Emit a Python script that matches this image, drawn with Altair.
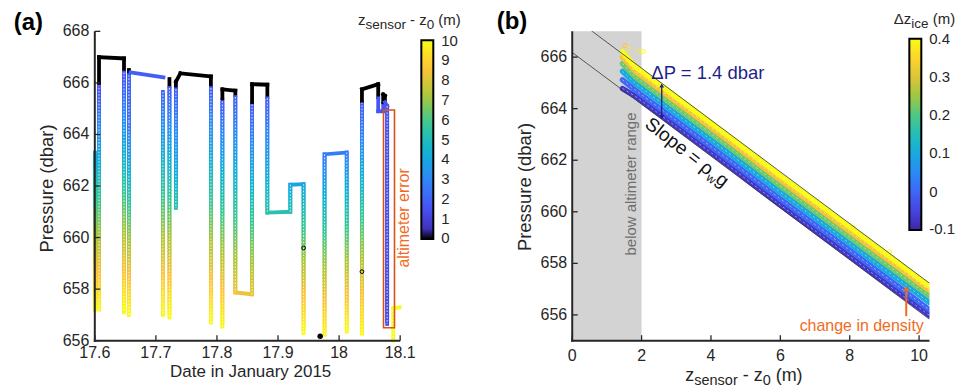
import math
import altair as alt
import pandas as pd

FONT = "Liberation Sans"
INK = "#262626"
ORANGE = "#F26B1D"
BOX_ORANGE = "#D95319"
NAVY = "#1F1F8C"
PARULA = ["#3E26A8", "#4852F4", "#2E87F7", "#12B1D6", "#37C897", "#ABC739", "#FEC338", "#F9FB15"]

# ---------------- panel (a): sensor path, leg by leg (start -> end) ----------------
leg_t0 = [17.6003, 17.6069, 17.6069, 17.6069, 17.6478, 17.6478, 17.6559, 17.6559, 17.6559, 17.6584,
          17.7115, 17.7222, 17.7222, 17.7328, 17.7328, 17.7328, 17.7402, 17.7901, 17.7901, 17.8089,
          17.8089, 17.8089, 17.8301, 17.8301, 17.8301, 17.8575, 17.8575, 17.8575, 17.8825, 17.8825,
          17.8825, 17.9201, 17.9201, 17.9418, 17.9762, 17.9762, 18.0125, 18.0374, 18.0374, 18.0374,
          18.0640, 18.0640, 18.0640, 18.0722, 18.0722, 18.0722, 18.0750, 18.0750, 18.0787, 18.0886,
          18.0886]
leg_p0 = [663.3, 657.2, 666.0, 667.0, 666.95, 666.4, 666.5, 666.3, 664.5, 666.41,
          665.65, 666.15, 665.8, 666.05, 665.75, 666.05, 666.37, 666.25, 665.8, 656.55,
          665.4, 665.75, 665.7, 665.45, 657.87, 657.8, 665.25, 665.95, 665.93, 665.4,
          660.97, 661.0, 662.05, 662.07, 656.23, 663.23, 663.3, 656.27, 665.3, 665.75,
          665.95, 665.4, 664.9, 664.9, 665.25, 665.55, 665.5, 665.25, 665.1, 656.0,
          657.25]
leg_z0 = [4.0, 10.0, 0, 0, 0, 1.5, 0, 1.9, 2.3, 1.9,
          2.0, 0, 1.8, 0, 1.8, 0, 0, 0, 1.8, 10.0,
          0, 0, 0, 1.8, 8.3, 8.3, 0, 0, 0, 1.8,
          5.3, 5.3, 4.0, 4.0, 10.0, 2.7, 2.7, 10.0, 0, 0,
          0, 1.6, 1.6, 1.6, 0, 0, 0, 1.6, 1.5, 10.0,
          10.0]
leg_t1 = [17.6003, 17.6069, 17.6069, 17.6478, 17.6478, 17.6478, 17.6559, 17.6559, 17.6559, 17.7124,
          17.7115, 17.7222, 17.7222, 17.7328, 17.7328, 17.7402, 17.7901, 17.7901, 17.7901, 17.8089,
          17.8089, 17.8301, 17.8301, 17.8301, 17.8575, 17.8575, 17.8575, 17.8825, 17.8825, 17.8825,
          17.9201, 17.9201, 17.9418, 17.9418, 17.9762, 18.0125, 18.0125, 18.0374, 18.0374, 18.0640,
          18.0640, 18.0640, 18.0722, 18.0722, 18.0722, 18.0750, 18.0750, 18.0787, 18.0787, 18.0886,
          18.0990]
leg_p1 = [657.2, 665.9, 667.0, 666.95, 666.5, 657.1, 666.35, 664.5, 657.0, 666.22,
          657.0, 665.85, 656.9, 665.8, 661.15, 666.37, 666.25, 665.85, 656.7, 665.35,
          665.75, 665.7, 665.5, 657.87, 657.8, 665.2, 665.95, 665.93, 665.45, 660.97,
          661.0, 662.05, 662.07, 656.3, 663.23, 663.3, 656.35, 665.25, 665.75, 665.95,
          665.45, 664.9, 664.9, 665.2, 665.55, 665.5, 665.3, 665.1, 656.65, 657.25,
          657.3]
leg_z1 = [10.0, 1.5, 0, 0, 0, 10.0, 0, 2.3, 10.0, 1.9,
          10.0, 0, 10.0, 0, 5.2, 0, 0, 0, 10.0, 1.8,
          0, 0, 0, 8.3, 8.3, 1.8, 0, 0, 0, 5.3,
          5.3, 4.0, 4.0, 10.0, 2.7, 2.7, 10.0, 1.8, 0, 0,
          0, 1.6, 1.6, 1.6, 0, 0, 0, 1.6, 1.3, 10.0,
          10.0]

# black marker points
mark_t = [17.9690, 17.9418, 18.0374]
mark_p = [656.17, 659.60, 658.68]
mark_filled = [True, False, False]

# altimeter-error box
box_t = [18.0727, 18.0907]
box_p = [656.5, 664.95]

xticks_a = [17.6, 17.7, 17.8, 17.9, 18.0, 18.1]
xlabels_a = ["17.6", "17.7", "17.8", "17.9", "18", "18.1"]
yticks_a = [656, 658, 660, 662, 664, 666, 668]
ylabels_a = ["656", "658", "660", "662", "664", "666", "668"]
# colour-bar tick positions (end ticks nudged a hair inside so their labels stay centred on the ends)
cbar_a_ticks = [0.03, 1, 2, 3, 4, 5, 6, 7, 8, 9, 9.97]

# ---------------- panel (b) ----------------
band_dz = [-0.07, 0.0, 0.1, 0.22, 0.32, 0.4]
band_z = [1.45, 1.8, 3.0, 4.5, 6.0, 7.5, 9.0, 10.3]
band_p = [
    [664.78, 664.50, 663.30, 661.79, 660.26, 658.77, 657.27, 655.98],
    [665.12, 664.74, 663.54, 662.03, 660.50, 659.01, 657.51, 656.20],
    [665.45, 665.00, 663.80, 662.29, 660.76, 659.27, 657.77, 656.48],
    [665.75, 665.25, 664.05, 662.54, 661.01, 659.52, 658.02, 656.73],
    [666.00, 665.47, 664.27, 662.76, 661.23, 659.74, 658.24, 656.95],
    [666.20, 665.65, 664.45, 662.94, 661.41, 659.92, 658.42, 657.11],
]
stray_z = [1.52, 1.62, 1.93, 2.05, 3.45, 5.35, 8.10, 9.15]
stray_p = [666.45, 666.33, 666.22, 666.22, 664.00, 662.10, 659.40, 658.45]
stray_dz = [0.33, 0.38, 0.38, 0.40, 0.40, 0.38, 0.40, 0.40]

line_z = [0.0, 10.3]
line_low_p = [666.18, 655.83]
line_up_p = [667.58, 657.23]

shade_z = [0.0, 2.0]
shade_p = [655.0, 667.0]

dp_z = 2.58
dp_p = [663.68, 664.90]
dens_z = 9.63
dens_p = [655.95, 657.02]

xticks_b = [0, 2, 4, 6, 8, 10]
xlabels_b = ["0", "2", "4", "6", "8", "10"]
yticks_b = [656, 658, 660, 662, 664, 666]
ylabels_b = ["656", "658", "660", "662", "664", "666"]
cbar_b_ticks = [-0.0985, 0.0, 0.1, 0.2, 0.3, 0.3985]

# ---------------- helpers ----------------
W_A, W_B, H = 306, 358, 310
OX_A, OY = 94.3, 30.5          # where panel (a)'s plot area starts in the page
GAP = 172.4
OX_B = OX_A + W_A + GAP
PAGE_W, PAGE_H = 974, 387
ONE = pd.DataFrame({"k": [0]})

CW = {'z': .5, 's': .5, 'e': .556, 'n': .556, 'o': .556, 'r': .333, ' ': .278, '-': .333, '0': .556,
      '(': .333, ')': .333, 'm': .833, 'Δ': .668, 'i': .222, 'c': .5, 'S': .667, 'l': .222,
      'p': .556, '=': .584, 'ρ': .578, 'w': .722, 'g': .556}


def tw(s, fs):
    return sum(CW.get(c, .556) for c in s) * fs


def rich(parts, x, y, color, angle=0.0):
    th = math.radians(angle)
    ux, uy = math.cos(th), math.sin(th)
    dx, dy = -math.sin(th), math.cos(th)
    out, off = [], 0.0
    for txt, fs, shift in parts:
        lead = len(txt) - len(txt.lstrip(' '))
        off += lead * CW[' '] * fs
        body = txt.strip(' ')
        px = x + off * ux + shift * dx
        py = y + off * uy + shift * dy
        out.append(alt.Chart(ONE).mark_text(text=body, fontSize=fs, font=FONT, color=color, align="left",
                                            baseline="alphabetic", angle=angle % 360)
                   .encode(x=alt.value(px), y=alt.value(py)))
        off += tw(body, fs)
    return out


def label(txt, x, y, fs, color=INK, align="center", baseline="middle", angle=0, weight="normal"):
    return alt.Chart(ONE).mark_text(text=txt, fontSize=fs, font=FONT, color=color, align=align,
                                    baseline=baseline, angle=angle, fontWeight=weight).encode(
        x=alt.value(x), y=alt.value(y))


def anchor(x, y):
    # a 1-px white rule that pins the page extent (autosize "pad")
    return alt.Chart(ONE).mark_rule(color="white", strokeWidth=1).encode(
        x=alt.value(x), x2=alt.value(x + 1), y=alt.value(y), y2=alt.value(y))


def axes(w, xvals, xlabs, yvals, ylabs, xs, ys, xpad, ypad, length=5.5):
    dom_x = alt.Chart(ONE).mark_rule(color=INK, strokeWidth=2).encode(
        x=alt.value(-1), x2=alt.value(w), y=alt.value(H), y2=alt.value(H))
    dom_y = alt.Chart(ONE).mark_rule(color=INK, strokeWidth=2).encode(
        x=alt.value(0), x2=alt.value(0), y=alt.value(0), y2=alt.value(H + 1))
    xdf = pd.DataFrame({"v": xvals, "lab": xlabs})
    ydf = pd.DataFrame({"v": yvals, "lab": ylabs})
    tx = alt.Chart(xdf).mark_rule(color=INK, strokeWidth=1.3).encode(
        x=alt.X("v:Q", scale=xs, axis=None), y=alt.value(H), y2=alt.value(H - length))
    ty = alt.Chart(ydf).mark_rule(color=INK, strokeWidth=1.3).encode(
        y=alt.Y("v:Q", scale=ys, axis=None), x=alt.value(0), x2=alt.value(length))
    lx = alt.Chart(xdf).mark_text(font=FONT, fontSize=16, color=INK, align="center", baseline="top").encode(
        x=alt.X("v:Q", scale=xs, axis=None), y=alt.value(H + xpad), text="lab:N")
    ly = alt.Chart(ydf).mark_text(font=FONT, fontSize=16, color=INK, align="right", baseline="middle").encode(
        y=alt.Y("v:Q", scale=ys, axis=None), x=alt.value(-ypad), text="lab:N")
    return [dom_x, dom_y, tx, ty, lx, ly]


# ---------------- panel (a) ----------------
rows = []
for i in range(len(leg_t0)):
    t0, p0, z0, t1, p1, z1 = leg_t0[i], leg_p0[i], leg_z0[i], leg_t1[i], leg_p1[i], leg_z1[i]
    n = 1 if z0 == z1 else max(1, math.ceil(abs(p1 - p0) / 0.12))
    for k in range(n):
        a, b = k / n, (k + 1) / n
        rows.append({"t": t0 + (t1 - t0) * a, "t2": t0 + (t1 - t0) * b,
                     "p": p0 + (p1 - p0) * a, "p2": p0 + (p1 - p0) * b,
                     "z": z0 + (z1 - z0) * (a + b) / 2})
seg_df = pd.DataFrame(rows)

# vertical legs (the sparsely sampled ones) get a light open-circle texture
legs_df = pd.DataFrame({"t": leg_t0, "t2": leg_t1, "p": leg_p0, "p2": leg_p1})
vert_df = legs_df[(legs_df.t == legs_df.t2) & ((legs_df.p - legs_df.p2).abs() > 1.0)]

xa = alt.Scale(domain=[17.6, 18.1], nice=False, zero=False)
ya = alt.Scale(domain=[656, 668], nice=False, zero=False)
za = alt.Scale(domain=[0] + [0.15 + 9.85 * k / 7 for k in range(8)], range=["#000000"] + PARULA,
               interpolate="rgb", clamp=True)

seg_layer = alt.Chart(seg_df).mark_rule(strokeWidth=3.8, strokeCap="square").encode(
    x=alt.X("t:Q", scale=xa, axis=None),
    x2="t2:Q",
    y=alt.Y("p:Q", scale=ya, axis=None),
    y2="p2:Q",
    color=alt.Color("z:Q", scale=za, legend=alt.Legend(
        title="", orient="none", legendX=327.2, legendY=9, direction="vertical", gradientLength=199,
        gradientThickness=12, gradientStrokeColor="black", gradientStrokeWidth=2, values=cbar_a_ticks,
        labelFont=FONT, labelFontSize=15, labelColor=INK, labelOffset=8, labelBaseline="middle",
        padding=0, labelOverlap=False, format="d")),
)
texture = alt.Chart(vert_df).mark_rule(color="white", strokeWidth=1.1, strokeDash=[1.6, 1.6],
                                       opacity=0.75).encode(
    x=alt.X("t:Q", scale=xa, axis=None), x2="t2:Q", y=alt.Y("p:Q", scale=ya, axis=None), y2="p2:Q")

box_layer = alt.Chart(pd.DataFrame({"t": [box_t[0]], "t2": [box_t[1]], "p": [box_p[0]], "p2": [box_p[1]]})) \
    .mark_rect(fillOpacity=0, stroke=BOX_ORANGE, strokeWidth=1.6).encode(
    x=alt.X("t:Q", scale=xa, axis=None), x2="t2:Q", y=alt.Y("p:Q", scale=ya, axis=None), y2="p2:Q")

mk = pd.DataFrame({"t": mark_t, "p": mark_p, "f": mark_filled})
dot_filled = alt.Chart(mk[mk.f]).mark_circle(color="black", size=30, opacity=1).encode(
    x=alt.X("t:Q", scale=xa, axis=None), y=alt.Y("p:Q", scale=ya, axis=None))
dot_open = alt.Chart(mk[~mk.f]).mark_point(color="black", size=14, strokeWidth=1, filled=False, opacity=1).encode(
    x=alt.X("t:Q", scale=xa, axis=None), y=alt.Y("p:Q", scale=ya, axis=None))

a_layers = [seg_layer, texture, box_layer, dot_filled, dot_open] + axes(
    W_A, xticks_a, xlabels_a, yticks_a, ylabels_a, xa, ya, 4.5, 5.5)
a_layers += [
    label("altimeter error", 309.7, 187, 16, color=ORANGE, angle=270),
    label("(a)", -81.3, -1.5, 24, align="left", baseline="alphabetic", weight="bold", color="black"),
    label("Pressure (dbar)", -48.3, 157.5, 18.5, angle=270),
    label("Date in January 2015", 156.2, 346, 17, baseline="alphabetic"),
    anchor(-OX_A + 0.5, -OY + 0.5),
]
a_layers += rich([("z", 15, 0), ("sensor", 13.5, 3.5), (" - z", 15, 0), ("0", 13.5, 3.5), (" (m)", 15, 0)],
                 263.7, -6, INK)
panel_a = alt.layer(*a_layers).properties(width=W_A, height=H)

# ---------------- panel (b) ----------------
xb = alt.Scale(domain=[0, 10.3], nice=False, zero=False)
yb = alt.Scale(domain=[655, 667], nice=False, zero=False)
zb = alt.Scale(domain=[-0.1 + 0.5 * k / 7 for k in range(8)], range=PARULA, interpolate="rgb", clamp=True)

shade = alt.Chart(pd.DataFrame({"z": [shade_z[0]], "z2": [shade_z[1]], "p": [shade_p[0]], "p2": [shade_p[1]]})) \
    .mark_rect(color="#D3D3D3").encode(
    x=alt.X("z:Q", scale=xb, axis=None), x2="z2:Q",
    y=alt.Y("p:Q", scale=yb, axis=None), y2="p2:Q")

band_rows = []
for bi, dzv in enumerate(band_dz):
    for zz, pp in zip(band_z, band_p[bi]):
        band_rows.append({"z": zz, "p": pp, "dz": dzv, "band": bi})
band_df = pd.DataFrame(band_rows)

legend_b = alt.Legend(
    title="", orient="none", legendX=337.8, legendY=7.5, direction="vertical", gradientLength=191.5,
    gradientThickness=12, gradientStrokeColor="black", gradientStrokeWidth=2, values=cbar_b_ticks,
    labelFont=FONT, labelFontSize=15, labelColor=INK, labelOffset=8, labelBaseline="middle",
    padding=0, labelOverlap=False,
    labelExpr="abs(datum.value) < 1e-9 ? '0' : replace(format(datum.value, '.1f'), '\u2212', '-')")

bands = alt.Chart(band_df).mark_line(strokeWidth=5.5, strokeCap="round", strokeJoin="round", clip=True,
                                     opacity=1).encode(
    x=alt.X("z:Q", scale=xb, axis=None), y=alt.Y("p:Q", scale=yb, axis=None),
    color=alt.Color("dz:Q", scale=zb, legend=legend_b), detail="band:N", order="z:Q")
band_texture = alt.Chart(band_df).mark_line(color="white", strokeWidth=0.9, strokeDash=[2, 3], clip=True,
                                            opacity=0.55).encode(
    x=alt.X("z:Q", scale=xb, axis=None), y=alt.Y("p:Q", scale=yb, axis=None),
    detail="band:N", order="z:Q")

strays = alt.Chart(pd.DataFrame({"z": stray_z, "p": stray_p, "dz": stray_dz})).mark_point(
    filled=False, size=16, strokeWidth=1, opacity=1).encode(
    x=alt.X("z:Q", scale=xb, axis=None), y=alt.Y("p:Q", scale=yb, axis=None),
    color=alt.Color("dz:Q", scale=zb, legend=legend_b))

ref_df = pd.DataFrame({"z": line_z + line_z, "p": line_low_p + line_up_p, "w": ["low", "low", "up", "up"]})
ref_lines = alt.Chart(ref_df).mark_line(color="#333333", strokeWidth=0.8, clip=True).encode(
    x=alt.X("z:Q", scale=xb, axis=None), y=alt.Y("p:Q", scale=yb, axis=None), detail="w:N")

dp_rule = alt.Chart(pd.DataFrame({"z": [dp_z], "p": [dp_p[0]], "p2": [dp_p[1]]})).mark_rule(
    color=NAVY, strokeWidth=1.3).encode(x=alt.X("z:Q", scale=xb, axis=None),
                                        y=alt.Y("p:Q", scale=yb, axis=None), y2="p2:Q")
dp_up = alt.Chart(pd.DataFrame({"z": [dp_z], "p": [dp_p[1]]})).mark_point(
    shape="triangle-up", filled=True, color=NAVY, size=22, opacity=1).encode(
    x=alt.X("z:Q", scale=xb, axis=None), y=alt.Y("p:Q", scale=yb, axis=None))
dp_down = alt.Chart(pd.DataFrame({"z": [dp_z], "p": [dp_p[0]]})).mark_point(
    shape="triangle-down", filled=True, color=NAVY, size=22, opacity=1).encode(
    x=alt.X("z:Q", scale=xb, axis=None), y=alt.Y("p:Q", scale=yb, axis=None))
dens_rule = alt.Chart(pd.DataFrame({"z": [dens_z], "p": [dens_p[0]], "p2": [dens_p[1] - 0.15]})).mark_rule(
    color=ORANGE, strokeWidth=2).encode(x=alt.X("z:Q", scale=xb, axis=None),
                                       y=alt.Y("p:Q", scale=yb, axis=None), y2="p2:Q")
dens_head = alt.Chart(pd.DataFrame({"z": [dens_z], "p": [dens_p[1]]})).mark_point(
    shape="triangle-up", filled=True, color=ORANGE, size=45, opacity=1).encode(
    x=alt.X("z:Q", scale=xb, axis=None), y=alt.Y("p:Q", scale=yb, axis=None))

b_layers = [shade, label("below altimeter range", 59, 153, 15, color="#6E6E6E", angle=270),
            bands, band_texture, strays, ref_lines, dp_rule, dp_up, dp_down, dens_rule, dens_head] \
    + axes(W_B, xticks_b, xlabels_b, yticks_b, ylabels_b, xb, yb, 7.5, 5)
b_layers += [
    label("\u0394P = 1.4 dbar", 79.3, 42, 18.5, color=NAVY, align="left"),
    label("change in density", 352.3, 295, 16, color=ORANGE, align="right"),
    label("(b)", -75.7, -2.5, 24, align="left", baseline="alphabetic", weight="bold", color="black"),
    label("Pressure (dbar)", -47.7, 156, 18.5, angle=270),
    anchor(PAGE_W - OX_B - 1.5, PAGE_H - OY - 0.5),
]
b_layers += rich([("z", 18, 0), ("sensor", 14.5, 4), (" - z", 18, 0), ("0", 14.5, 4), (" (m)", 18, 0)],
                 113.3, 350, INK)
b_layers += rich([("\u0394z", 15, 0), ("ice", 13.5, 3.5), (" (m)", 15, 0)], 322.3, -7, INK)
b_layers += rich([("Slope = \u03c1", 19, 0), ("w", 12, 4), ("g", 19, 0)], 71.7, 95.1, "#111111", angle=38)
panel_b = alt.layer(*b_layers).properties(width=W_B, height=H)

chart = alt.hconcat(panel_a, panel_b, spacing=GAP, bounds="flush").resolve_scale(
    color="independent", x="independent", y="independent"
).resolve_legend(color="independent").properties(
    padding=0,
    autosize=alt.AutoSizeParams(type="pad"),
).configure_view(stroke="transparent")

chart.save("out.html", embed_options={"renderer": "svg", "actions": False})
